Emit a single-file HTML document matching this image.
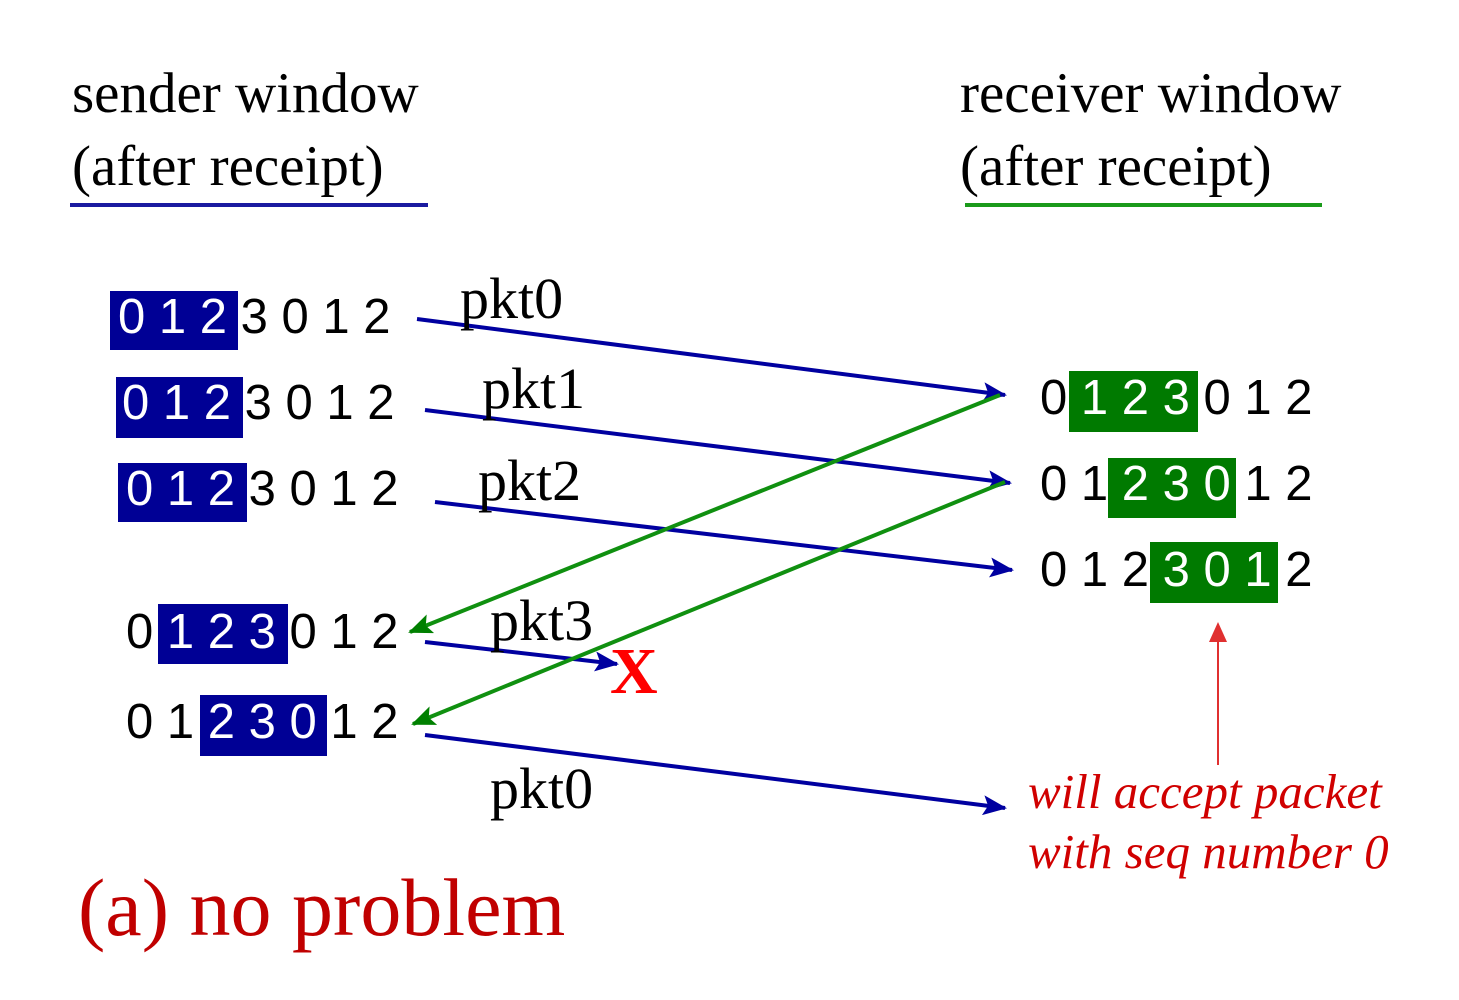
<!DOCTYPE html>
<html><head><style>html,body{margin:0;padding:0;background:#fff;}svg{display:block}</style></head>
<body>
<svg width="1459" height="1000" viewBox="0 0 1459 1000" xmlns="http://www.w3.org/2000/svg">
<defs>
<marker id="bh" markerWidth="24" markerHeight="20" refX="22" refY="10" orient="auto" markerUnits="userSpaceOnUse" viewBox="0 0 24 20"><path d="M0,0 L24,10 L0,20 L5,10 Z" fill="#0000a0"/></marker>
<marker id="gh" markerWidth="24" markerHeight="20" refX="22" refY="10" orient="auto" markerUnits="userSpaceOnUse" viewBox="0 0 24 20"><path d="M0,0 L24,10 L0,20 L5,10 Z" fill="#008000"/></marker>
</defs>
<style>
.s{font-family:"Liberation Serif",serif;}
.n{font-family:"Liberation Sans",sans-serif;font-size:49px;}
</style>
<text class="s" x="72" y="112" font-size="57">sender window</text>
<text class="s" x="72" y="185" font-size="57">(after receipt)</text>
<line x1="70" y1="205" x2="428" y2="205" stroke="#1a1aa0" stroke-width="4"/>
<text class="s" x="960" y="112" font-size="57">receiver window</text>
<text class="s" x="960" y="185" font-size="57">(after receipt)</text>
<line x1="965" y1="205" x2="1322" y2="205" stroke="#1a9a1a" stroke-width="4"/>
<rect x="110" y="291" width="128" height="59" fill="#000095"/>
<rect x="116" y="377" width="127" height="61" fill="#000095"/>
<rect x="118" y="463" width="129" height="59" fill="#000095"/>
<rect x="158" y="604" width="130" height="60" fill="#000095"/>
<rect x="200" y="695" width="127" height="61" fill="#000095"/>
<rect x="1069" y="371" width="129" height="61" fill="#007a00"/>
<rect x="1108" y="458" width="128" height="60" fill="#007a00"/>
<rect x="1150" y="542" width="128" height="61" fill="#007a00"/>
<text class="n" x="118" y="333" xml:space="preserve"><tspan fill="#fff">0 1 2</tspan> 3 0 1 2</text>
<text class="n" x="122" y="419" xml:space="preserve"><tspan fill="#fff">0 1 2</tspan> 3 0 1 2</text>
<text class="n" x="126" y="505" xml:space="preserve"><tspan fill="#fff">0 1 2</tspan> 3 0 1 2</text>
<text class="n" x="126" y="648" xml:space="preserve">0 <tspan fill="#fff">1 2 3</tspan> 0 1 2</text>
<text class="n" x="126" y="738" xml:space="preserve">0 1 <tspan fill="#fff">2 3 0</tspan> 1 2</text>
<text class="n" x="1040" y="414" xml:space="preserve">0 <tspan fill="#fff">1 2 3</tspan> 0 1 2</text>
<text class="n" x="1040" y="500" xml:space="preserve">0 1 <tspan fill="#fff">2 3 0</tspan> 1 2</text>
<text class="n" x="1040" y="586" xml:space="preserve">0 1 2 <tspan fill="#fff">3 0 1</tspan> 2</text>
<g stroke="#0000a0" stroke-width="4" fill="none">
<line x1="417" y1="319" x2="1005" y2="395" marker-end="url(#bh)"/>
<line x1="425" y1="410" x2="1010" y2="483" marker-end="url(#bh)"/>
<line x1="435" y1="502" x2="1012" y2="570" marker-end="url(#bh)"/>
<line x1="425" y1="642" x2="617" y2="664" marker-end="url(#bh)"/>
<line x1="425" y1="735" x2="1005" y2="808" marker-end="url(#bh)"/>
</g>
<g stroke="#109010" stroke-width="4" fill="none">
<line x1="1000" y1="395" x2="410" y2="632" marker-end="url(#gh)"/>
<line x1="1005" y1="482" x2="413" y2="724" marker-end="url(#gh)"/>
</g>
<text class="s" x="460" y="318" font-size="58">pkt0</text>
<text class="s" x="482" y="408" font-size="58">pkt1</text>
<text class="s" x="478" y="500" font-size="58">pkt2</text>
<text class="s" x="490" y="640" font-size="58">pkt3</text>
<text class="s" x="490" y="808" font-size="58">pkt0</text>
<text class="s" x="610" y="693" font-size="66" font-weight="bold" fill="#ff0000">X</text>
<line x1="1218" y1="765" x2="1218" y2="630" stroke="#e03030" stroke-width="2"/>
<path d="M1209,642 L1218,622 L1227,642 Z" fill="#e03030"/>
<text class="s" x="1028" y="808" font-size="49" font-style="italic" fill="#d00000">will accept packet</text>
<text class="s" x="1028" y="868" font-size="49" font-style="italic" fill="#d00000">with seq number 0</text>
<text class="s" x="78" y="935" font-size="82" fill="#c00000">(a) no problem</text>
</svg>
</body></html>
